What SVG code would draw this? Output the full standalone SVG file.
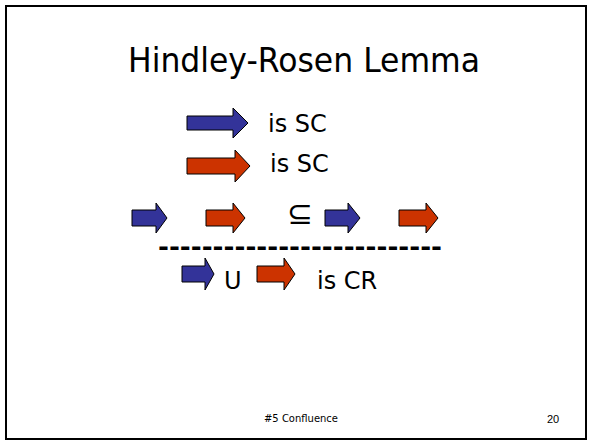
<svg xmlns="http://www.w3.org/2000/svg" width="592" height="445" viewBox="0 0 592 445">
<style>
.t{font-family:"DejaVu Sans","Liberation Sans",sans-serif;fill:#000}
.blue{fill:#333399;stroke:#000;stroke-width:1;stroke-linejoin:miter}
.red{fill:#CC3300;stroke:#000;stroke-width:1;stroke-linejoin:miter}
</style>
<rect x="0" y="0" width="592" height="445" fill="#fff"/>
<rect x="6" y="6" width="580" height="433" fill="none" stroke="#000" stroke-width="2"/>
<g id="title"><text class="t" x="128" y="72" font-size="33" textLength="352" lengthAdjust="spacingAndGlyphs">Hindley-Rosen Lemma</text></g>
<g id="row1">
<path class="blue" d="M187,116 H233 V108 L248,123 L233,138 V130 H187 Z"/>
<text class="t" x="268" y="132" font-size="24">is SC</text>
</g>
<g id="row2">
<path class="red" d="M187,158 H235 V150 L250,166 L235,182 V174 H187 Z"/>
<text class="t" x="270" y="172" font-size="24">is SC</text>
</g>
<g id="row3">
<path class="blue" d="M132,210 H156 V203 L167,218 L156,233 V226 H132 Z"/>
<path class="red" d="M206,210 H233 V203 L245,218 L233,233 V226 H206 Z"/>
<text class="t" x="287" y="224" font-size="31">⊆</text>
<path class="blue" d="M325,210 H348 V203 L360,218 L348,233 V226 H325 Z"/>
<path class="red" d="M399,210 H426 V203 L438,218 L426,233 V226 H399 Z"/>
</g>
<g id="divider"><text class="t" x="158" y="255" font-size="24" font-weight="bold" textLength="284" lengthAdjust="spacingAndGlyphs">--------------------------</text></g>
<g id="row4">
<path class="blue" d="M182,266 H205 V258 L214,274 L205,290 V282 H182 Z"/>
<text class="t" x="224" y="289" font-size="24">U</text>
<path class="red" d="M257,266 H284 V258 L295,274 L284,290 V282 H257 Z"/>
<text class="t" x="317" y="289" font-size="24">is CR</text>
</g>
<g id="footer">
<text class="t" x="301" y="422" font-size="10.5" text-anchor="middle" textLength="74" lengthAdjust="spacingAndGlyphs">#5 Confluence</text>
<text x="547" y="423" font-size="11" font-family="Liberation Sans,Arial,sans-serif">20</text>
</g>
</svg>
